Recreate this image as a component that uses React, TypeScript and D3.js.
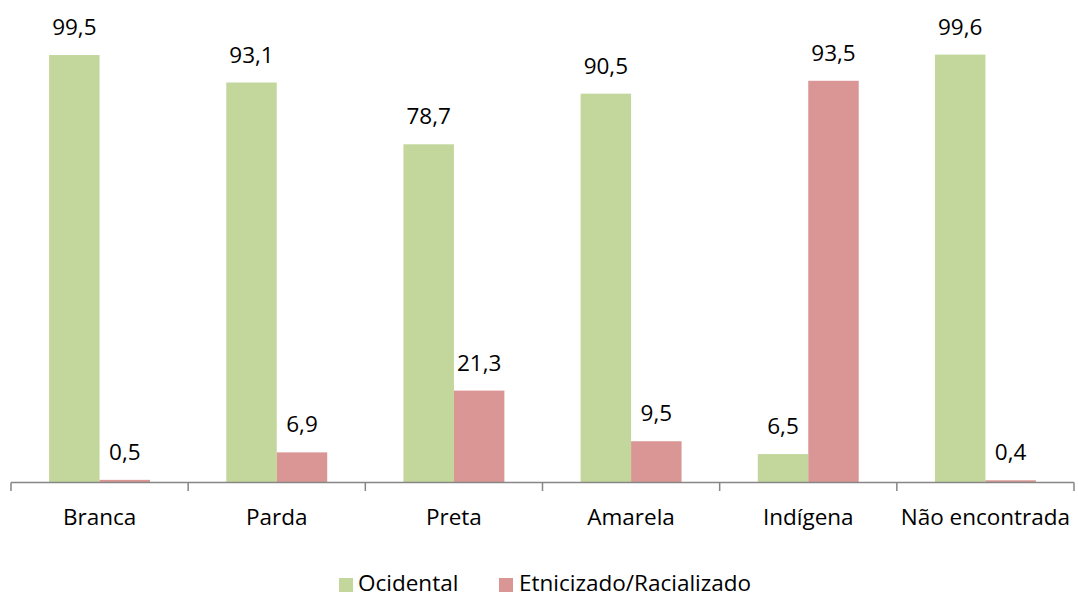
import React from "react";
import * as d3 from "d3";

const categories = ["Branca", "Parda", "Preta", "Amarela", "Indígena", "Não encontrada"];
const seriesNames = ["Ocidental", "Etnicizado/Racializado"];
const ocidental = [99.5, 93.1, 78.7, 90.5, 6.5, 99.6];
const etnicizado = [0.5, 6.9, 21.3, 9.5, 93.5, 0.4];
const colors = ["#C3D69B", "#D99694"];

const W = 1078;
const H = 597;
const FONT = "'Open Sans', sans-serif";
const FS = 22.5;

export default function App() {
  const x0 = d3.scaleBand<string>().domain(categories).range([11, 1074]).paddingInner(0).paddingOuter(0);
  const x1 = d3.scaleBand<string>().domain(seriesNames).range([0, x0.bandwidth()]).paddingInner(0).paddingOuter(0.755);
  const y = d3.scaleLinear().domain([0, 100]).range([482, 52.9]);
  const fmt = (v: number) => v.toFixed(1).replace(".", ",");
  const series = [ocidental, etnicizado];
  const ticks = categories.map((c) => x0(c)!).concat([x0.range()[1]]);

  return (
    <svg width={W} height={H} style={{ position: "absolute", left: 0, top: 0, background: "#fff" }} fontFamily={FONT}>
      {categories.map((c, i) =>
        seriesNames.map((s, j) => {
          const v = series[j][i];
          const bx = x0(c)! + x1(s)!;
          return (
            <g key={c + s}>
              <rect x={bx} y={y(v)} width={x1.bandwidth()} height={y(0) - y(v)} fill={colors[j]} />
              <text x={bx + x1.bandwidth() / 2} y={y(v) - 20} textAnchor="middle" fontSize={FS} fill="#000">
                {fmt(v)}
              </text>
            </g>
          );
        })
      )}
      <line x1={11} x2={1074} y1={482.5} y2={482.5} stroke="#868686" strokeWidth={1.5} />
      {ticks.map((t, i) => (
        <line key={i} x1={t} x2={t} y1={482.5} y2={491} stroke="#868686" strokeWidth={1.5} />
      ))}
      {categories.map((c) => (
        <text key={c} x={x0(c)! + x0.bandwidth() / 2} y={525} textAnchor="middle" fontSize={FS} fill="#000">
          {c}
        </text>
      ))}
      <g>
        <rect x={339} y={578} width={14} height={14} fill={colors[0]} />
        <text x={358} y={591} fontSize={FS} fill="#000">{seriesNames[0]}</text>
        <rect x={499} y={578} width={14} height={14} fill={colors[1]} />
        <text x={519} y={591} fontSize={FS} fill="#000">{seriesNames[1]}</text>
      </g>
    </svg>
  );
}
